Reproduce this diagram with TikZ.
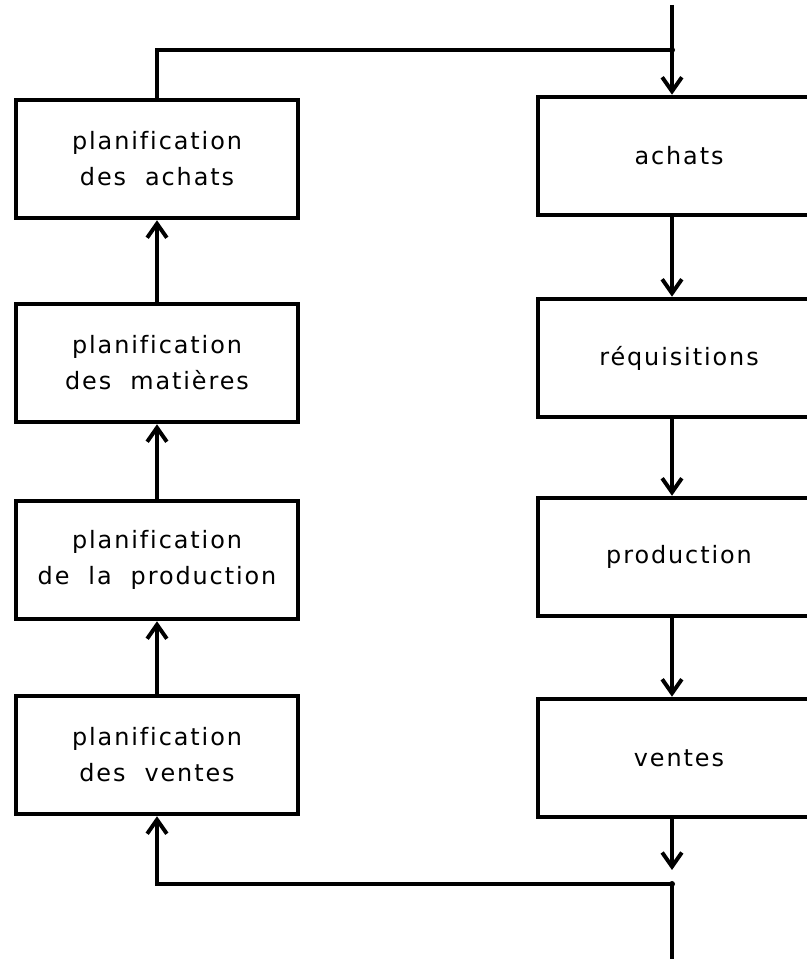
\documentclass[tikz,border=0pt]{standalone}
\usepackage{fontspec}
\usepackage{xcolor}
\usetikzlibrary{calc}
\usetikzlibrary{arrows.meta}
\newfontfamily\boxfont{DejaVu Sans}[LetterSpace=8,WordSpace=2,Ligatures=NoCommon]

\tikzset{
    planbox/.style={draw, line width=3.2pt, minimum width=7.05cm, minimum height=2.95cm,
        align=center, font=\boxfont\fontsize{17pt}{25.6pt}\selectfont},
    flow/.style={line width=2.8pt},
    flowarrow/.style={flow, -{Straight Barb[length=10pt,width=14pt]}},
}

\begin{document}
\begin{tikzpicture}[x=0.025cm, y=0.025cm]
    \clip (0, 0) rectangle (807, 959);
    % planning column, read bottom to top
    \node[planbox] (pachats) at (157, 800) {planification\\des achats};
    \node[planbox] (pmatieres) at (157, 596) {planification\\des matières};
    \node[planbox] (pproduction) at (157, 399) {planification\\de la production};
    \node[planbox] (pventes) at (157, 204) {planification\\des ventes};
    % operations column, cut by the right edge
    \node[planbox] (achats) at (679, 803) {achats};
    \node[planbox] (requisitions) at (679, 601) {réquisitions};
    \node[planbox] (production) at (679, 402) {production};
    \node[planbox] (ventes) at (679, 201) {ventes};
    \coordinate (top) at (672, 954);
    \coordinate (in) at (672, 909);
    \coordinate (out) at (672, 75);
    \coordinate (bot) at (672, -10);

    \draw[flow] (top) -- (in);
    \draw[flow] (in) -| (pachats.north);
    \draw[flowarrow] (in) -- (achats.north -| in);
    \fill (in) circle (3);
    \foreach \a/\b in {pventes/pproduction, pproduction/pmatieres, pmatieres/pachats} {
        \draw[flowarrow] (\a.north) -- (\b.south);
    }
    \foreach \a/\b in {achats/requisitions, requisitions/production, production/ventes} {
        \draw[flowarrow] (\a.south -| in) -- (\b.north -| in);
    }
    \draw[flowarrow, shorten >=0.35cm] (ventes.south -| out) -- (out);
    \draw[flowarrow] (out) -| (pventes.south);
    \draw[flow] (out) -- (bot);
    \fill (out) circle (3);
\end{tikzpicture}
\end{document}
